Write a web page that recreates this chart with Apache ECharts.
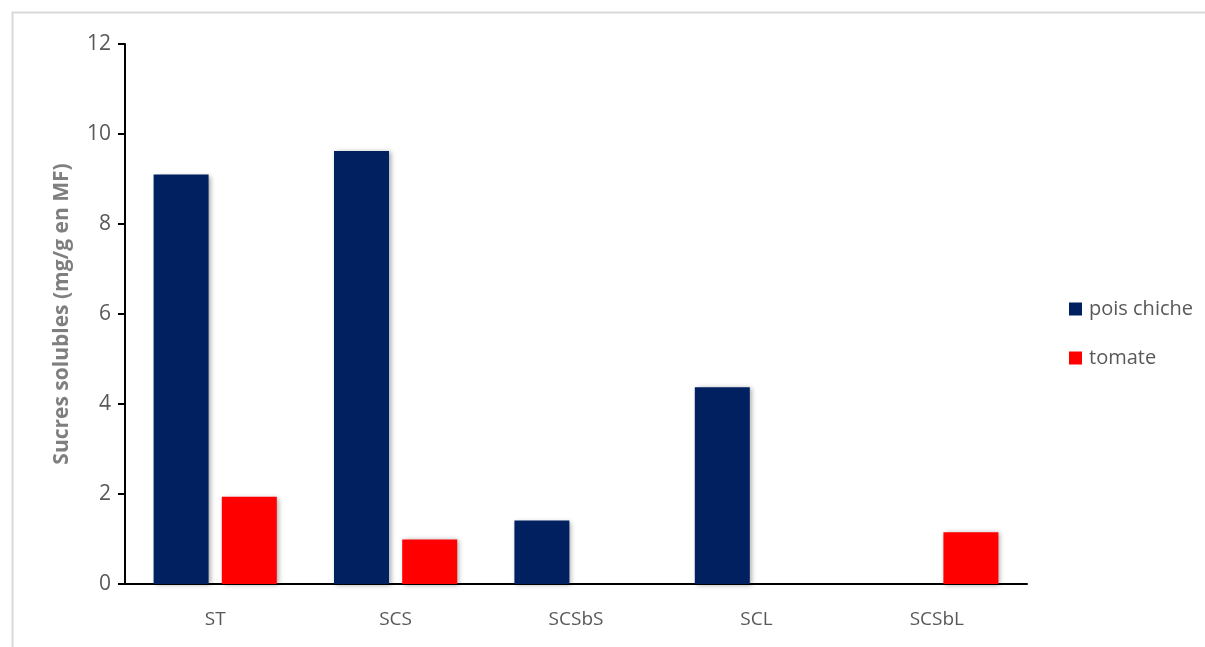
<!DOCTYPE html>
<html>
<head>
<meta charset="utf-8">
<script src="https://cdn.jsdelivr.net/npm/echarts@6/dist/echarts.min.js"></script>
<style>
html,body{margin:0;padding:0;background:#fff;}
#chart{width:1205px;height:647px;}
</style>
</head>
<body>
<div id="chart"></div>
<script>
var categories = ['ST', 'SCS', 'SCSbS', 'SCL', 'SCSbL'];
var poisChiche = [9.10, 9.62, 1.41, 4.37, null];
var tomate = [1.94, 0.99, null, null, 1.15];
var yTicks = [0, 2, 4, 6, 8, 10, 12];

var font = "'Liberation Sans Narrow', 'Open Sans', sans-serif";
var chart = echarts.init(document.getElementById('chart'));
var shadow = {shadowBlur: 5, shadowColor: 'rgba(0,0,0,0.35)', shadowOffsetX: 2, shadowOffsetY: 1};
chart.setOption({
  animation: false,
  backgroundColor: '#ffffff',
  graphic: [{
    type: 'rect', left: 10, top: 10, shape: {width: 1215, height: 660},
    style: {fill: 'none', stroke: '#d9d9d9', lineWidth: 2}, silent: true
  }],
  grid: {left: 125, top: 44, right: 178, bottom: 63},
  legend: {
    orient: 'vertical', left: 1064, top: 294, itemWidth: 13, itemHeight: 13,
    itemGap: 29, icon: 'rect',
    textStyle: {fontFamily: font, fontSize: 20, color: '#595959', padding: [0, 0, 0, 2]},
    data: ['pois chiche', 'tomate']
  },
  xAxis: {
    type: 'category', data: categories,
    axisLine: {lineStyle: {color: '#000', width: 2}},
    axisTick: {show: false},
    axisLabel: {fontFamily: font, fontSize: 19, color: '#595959', margin: 26}
  },
  yAxis: {
    type: 'value', min: yTicks[0], max: yTicks[yTicks.length - 1], interval: 2,
    name: 'Sucres solubles (mg/g en MF)', nameLocation: 'middle', nameGap: 52, nameRotate: 90,
    nameTextStyle: {fontFamily: "'Open Sans', sans-serif", fontSize: 21, fontWeight: 'bold', color: '#7f7f7f'},
    axisLine: {show: true, lineStyle: {color: '#000', width: 2}},
    axisTick: {show: true, length: 7, lineStyle: {color: '#000', width: 2}},
    axisLabel: {fontFamily: font, fontSize: 21, color: '#595959', margin: 14},
    splitLine: {show: false}
  },
  series: [
    {name: 'pois chiche', type: 'bar', data: poisChiche, barWidth: 55, barGap: '24%',
     itemStyle: Object.assign({color: '#002060'}, shadow)},
    {name: 'tomate', type: 'bar', data: tomate, barWidth: 55,
     itemStyle: Object.assign({color: '#ff0000'}, shadow)}
  ]
});
</script>
</body>
</html>
